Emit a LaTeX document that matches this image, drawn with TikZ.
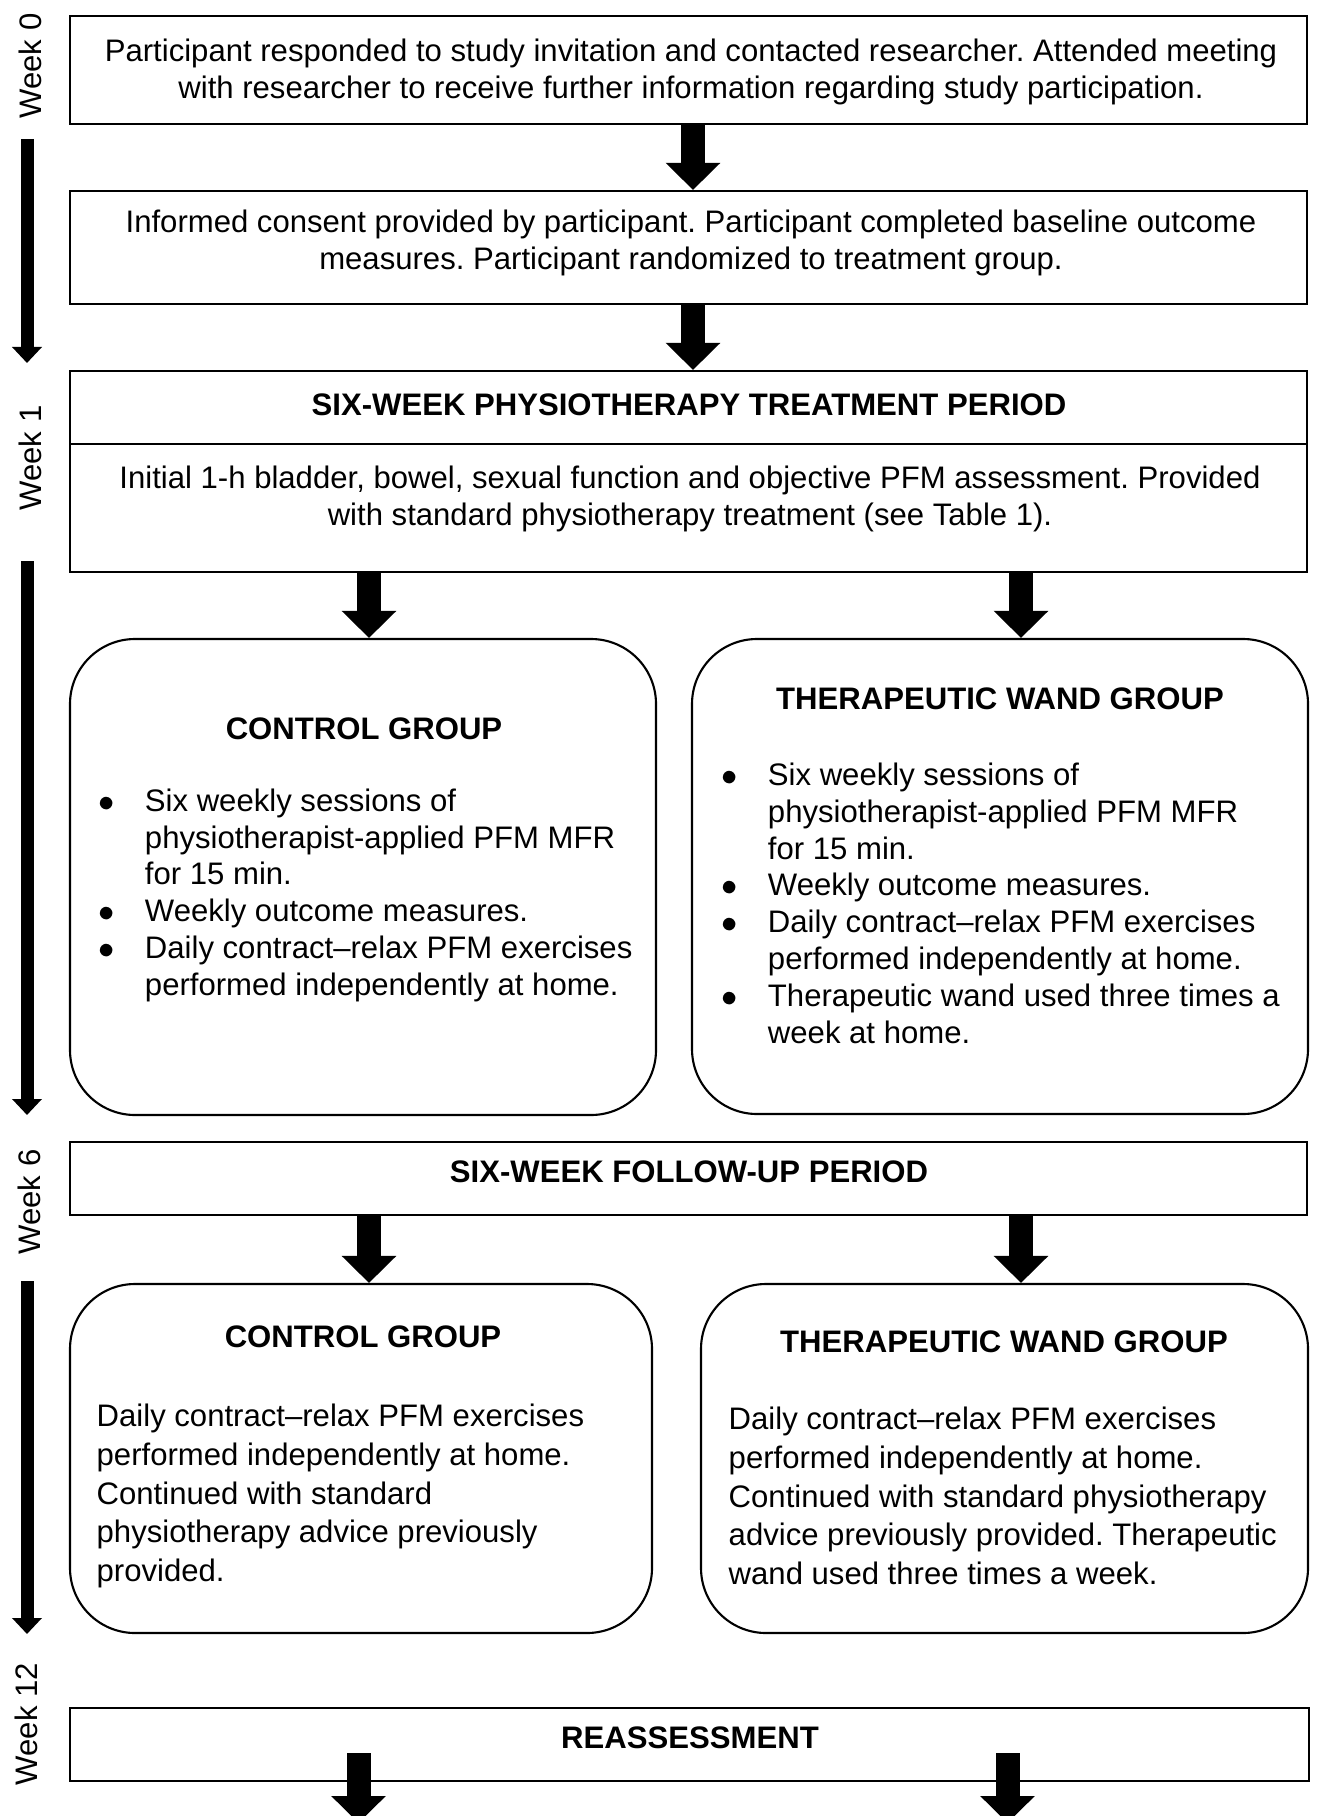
\documentclass[tikz,border=0pt]{standalone}
\usepackage{fontspec}
\setmainfont{Liberation Sans}
\usepackage{tikz}
\usetikzlibrary{arrows.meta}
\frenchspacing

\begin{document}
\begin{tikzpicture}[y=-1cm,
    box/.style={draw, line width=0.6pt, inner sep=0pt},
    grp/.style={box, rounded corners=0.65cm},
    txt/.style={font=\fontsize{8.85}{10.5}\selectfont, align=center, inner sep=0pt},
    ttl/.style={font=\fontsize{8.85}{10}\selectfont\bfseries, inner sep=0pt},
    lst/.style={font=\fontsize{8.85}{10.5}\selectfont, inner sep=0pt, anchor=west},
    body/.style={font=\fontsize{8.85}{11}\selectfont, align=left, inner sep=0pt, anchor=west},
    wk/.style={font=\fontsize{8.85}{10}\selectfont, rotate=90, inner sep=0pt},
    fatarrow/.style={line width=0.24cm, -{Triangle[width=0.53cm,length=0.27cm]}},
    weekbar/.style={line width=0.13cm, -{Triangle[width=0.29cm,length=0.16cm]}}]
    \fill[white] (0,0) rectangle (13.22,18.16);
    \useasboundingbox (0,0) rectangle (13.22,18.16);

    % time line on the left
    \node[wk] (wk0) at (0.30,0.66) {Week 0};
    \node[wk] (wk1) at (0.30,4.58) {Week 1};
    \node[wk] (wk6) at (0.29,12.02) {Week 6};
    \node[wk] (wk12) at (0.26,17.24) {Week 12};
    \coordinate (bar1s) at (0.27,1.39);
    \coordinate (bar1e) at (0.27,3.63);
    \coordinate (bar2s) at (0.27,5.61);
    \coordinate (bar2e) at (0.27,11.15);
    \coordinate (bar3s) at (0.27,12.81);
    \coordinate (bar3e) at (0.27,16.34);
    \draw[weekbar] (bar1s) -- (bar1e);
    \draw[weekbar] (bar2s) -- (bar2e);
    \draw[weekbar] (bar3s) -- (bar3e);

    % boxes
    \node[box, minimum width=12.37cm, minimum height=1.08cm] (info) at (6.885,0.70) {};
    \node[txt] (infotxt) at (6.91,0.72) {Participant responded to study invitation and contacted researcher. Attended meeting\\with researcher to receive further information regarding study participation.};
    \node[box, minimum width=12.37cm, minimum height=1.13cm] (consent) at (6.885,2.475) {};
    \node[txt] (consenttxt) at (6.91,2.43) {Informed consent provided by participant. Participant completed baseline outcome\\measures. Participant randomized to treatment group.};
    \node[box, minimum width=12.37cm, minimum height=0.73cm] (treathead) at (6.885,4.075) {};
    \node[ttl] (treatttl) at (6.89,4.05) {SIX-WEEK PHYSIOTHERAPY TREATMENT PERIOD};
    \node[box, minimum width=12.37cm, minimum height=1.28cm] (treatbody) at (6.885,5.08) {};
    \node[txt] (treattxt) at (6.90,4.99) {Initial 1-h bladder, bowel, sexual function and objective PFM assessment. Provided\\with standard physiotherapy treatment (see Table 1).};

    \node[grp, minimum width=5.86cm, minimum height=4.76cm] (ctrlA) at (3.63,8.77) {};
    \node[ttl] (ctrlAttl) at (3.64,7.29) {CONTROL GROUP};
    \node[lst] (ctrlAlst) at (0.98,8.96) {\begin{tabular}{@{}l@{\hspace{0.30cm}}l@{}}
        $\bullet$ & Six weekly sessions of\\
                  & physiotherapist-applied PFM MFR\\
                  & for 15 min.\\
        $\bullet$ & Weekly outcome measures.\\
        $\bullet$ & Daily contract–relax PFM exercises\\
                  & performed independently at home.
    \end{tabular}};
    \node[grp, minimum width=6.16cm, minimum height=4.75cm] (wandA) at (10.00,8.765) {};
    \node[ttl] (wandAttl) at (10.00,6.99) {THERAPEUTIC WAND GROUP};
    \node[lst] (wandAlst) at (7.21,9.07) {\begin{tabular}{@{}l@{\hspace{0.30cm}}l@{}}
        $\bullet$ & Six weekly sessions of\\
                  & physiotherapist-applied PFM MFR\\
                  & for 15 min.\\
        $\bullet$ & Weekly outcome measures.\\
        $\bullet$ & Daily contract–relax PFM exercises\\
                  & performed independently at home.\\
        $\bullet$ & Therapeutic wand used three times a\\
                  & week at home.
    \end{tabular}};

    \node[box, minimum width=12.37cm, minimum height=0.73cm] (followup) at (6.885,11.785) {};
    \node[ttl] (followttl) at (6.89,11.72) {SIX-WEEK FOLLOW-UP PERIOD};

    \node[grp, minimum width=5.82cm, minimum height=3.49cm] (ctrlB) at (3.61,14.585) {};
    \node[ttl] (ctrlBttl) at (3.63,13.37) {CONTROL GROUP};
    \node[body] (ctrlBtxt) at (0.96,14.96) {Daily contract–relax PFM exercises\\performed independently at home.\\Continued with standard\\physiotherapy advice previously\\provided.};
    \node[grp, minimum width=6.07cm, minimum height=3.49cm] (wandB) at (10.045,14.585) {};
    \node[ttl] (wandBttl) at (10.04,13.42) {THERAPEUTIC WAND GROUP};
    \node[body] (wandBtxt) at (7.28,14.96) {Daily contract–relax PFM exercises\\performed independently at home.\\Continued with standard physiotherapy\\advice previously provided. Therapeutic\\wand used three times a week.};

    \node[box, minimum width=12.39cm, minimum height=0.73cm] (reassess) at (6.895,17.445) {};
    \node[ttl] (reassttl) at (6.90,17.38) {REASSESSMENT};

    % arrows between the boxes
    \coordinate (colM) at (6.93,0);
    \coordinate (colL) at (3.69,0);
    \coordinate (colR) at (10.21,0);
    \draw[fatarrow] (info.south -| colM) -- (consent.north -| colM);
    \draw[fatarrow] (consent.south -| colM) -- (treathead.north -| colM);
    \draw[fatarrow] (treatbody.south -| colL) -- (ctrlA.north -| colL);
    \draw[fatarrow] (treatbody.south -| colR) -- (wandA.north -| colR);
    \draw[fatarrow] (followup.south -| colL) -- (ctrlB.north -| colL);
    \draw[fatarrow] (followup.south -| colR) -- (wandB.north -| colR);
    \coordinate (outLs) at (3.585,17.53);
    \coordinate (outLe) at (3.585,18.23);
    \coordinate (outRs) at (10.075,17.53);
    \coordinate (outRe) at (10.075,18.23);
    \draw[fatarrow] (outLs) -- (outLe);
    \draw[fatarrow] (outRs) -- (outRe);
\end{tikzpicture}
\end{document}
